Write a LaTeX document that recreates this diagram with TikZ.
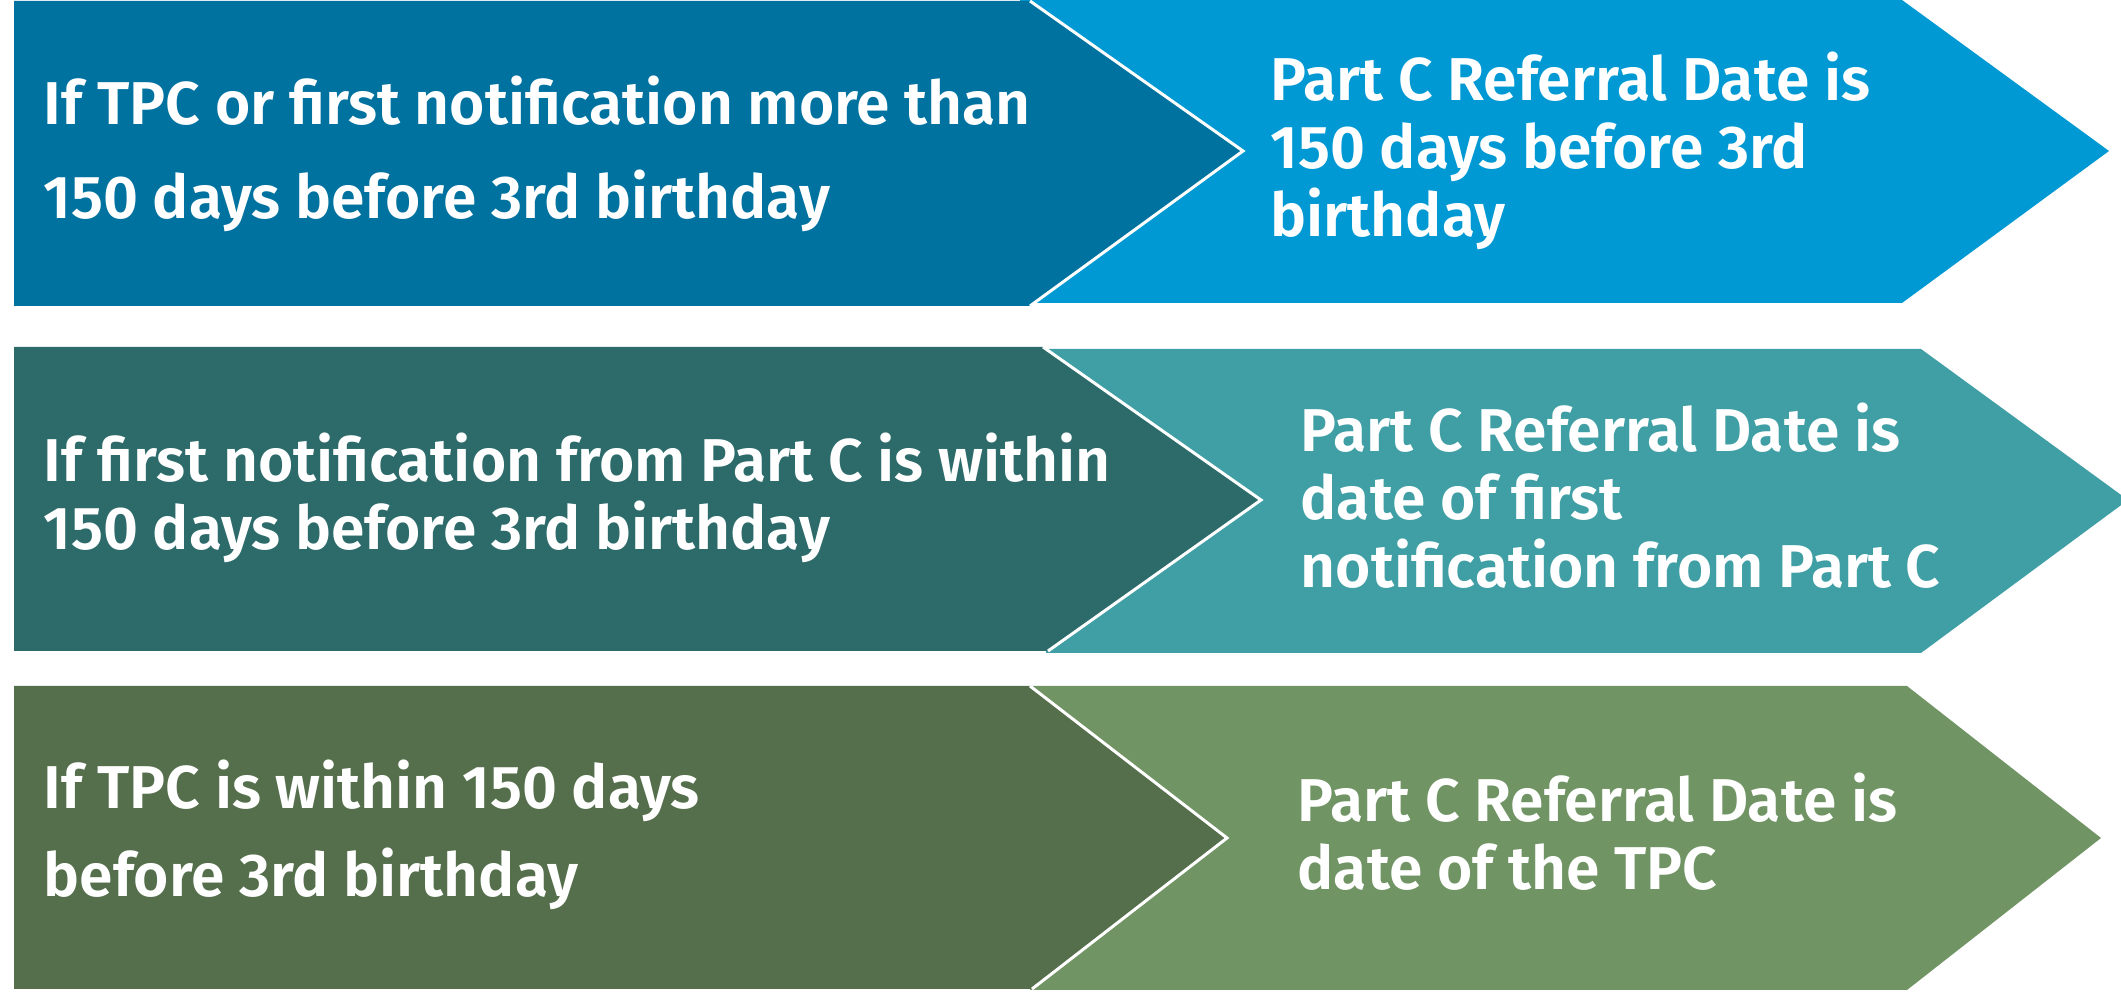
\documentclass[tikz,border=0pt]{standalone}
\usepackage{fontspec}
\setmainfont{Fira Sans}[BoldFont={Fira Sans SemiBold}]
\definecolor{rowAdark}{HTML}{00729F}
\definecolor{rowAlight}{HTML}{0099D3}
\definecolor{rowBdark}{HTML}{2D6B6B}
\definecolor{rowBlight}{HTML}{409FA5}
\definecolor{rowCdark}{HTML}{556F4C}
\definecolor{rowClight}{HTML}{719464}
\begin{document}
\begin{tikzpicture}
      [x=0.01cm, y=-0.01cm,
      every node/.style={text=white, align=left, anchor=base west, inner sep=0pt,
        font=\bfseries\fontsize{17.2}{19.4}\selectfont},
      loose/.style={font=\bfseries\fontsize{17.2}{27}\selectfont},
      mid/.style={font=\bfseries\fontsize{17.2}{25.3}\selectfont},
      edge/.style={draw=white, line width=0.85pt},
      ]
      \useasboundingbox (0,0) rectangle (2121,995);
      % row 1
      \fill[rowAlight] (1020,0) -- (1902,0) -- (2109,151) -- (1902,303) -- (1020,303) -- cycle;
      \fill[rowAdark] (14,1) -- (1030,1) -- (1243,151) -- (1030,306) -- (14,306) -- cycle;
      \draw[edge] (1030,1) -- (1243,151) -- (1030,306);
      \node[loose] (ifA) at (43,219) {If TPC or first notification more than\\150 days before 3rd birthday};
      \node (thenA) at (1270,237) {Part C Referral Date is\\150 days before 3rd\\birthday};
      % row 2
      \fill[rowBlight] (1046,349) -- (1921,349) -- (2128,500) -- (1921,653) -- (1046,653) -- cycle;
      \fill[rowBdark] (14,347) -- (1043,347) -- (1261,500) -- (1048,651) -- (14,651) -- cycle;
      \draw[edge] (1043,347) -- (1261,500) -- (1048,651);
      \node (ifB) at (43,550) {If first notification from Part C is within\\150 days before 3rd birthday};
      \node (thenB) at (1300,588) {Part C Referral Date is\\date of first\\notification from Part C};
      % row 3
      \fill[rowClight] (1030,686) -- (1907,686) -- (2101,838) -- (1907,990) -- (1030,990) -- cycle;
      \fill[rowCdark] (14,686) -- (1030,686) -- (1227,838) -- (1032,989) -- (14,989) -- cycle;
      \draw[edge] (1030,686) -- (1227,838) -- (1032,989);
      \node[mid] (ifC) at (43,897) {If TPC is within 150 days\\before 3rd birthday};
      \node (thenC) at (1297,890) {Part C Referral Date is\\date of the TPC};
\end{tikzpicture}
\end{document}
